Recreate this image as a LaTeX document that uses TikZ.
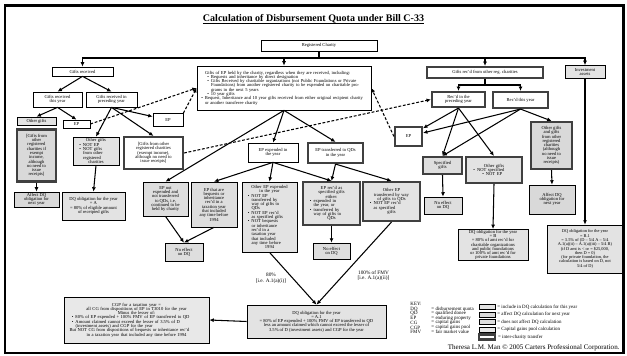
\documentclass[tikz,border=0pt]{standalone}
\usepackage{fontspec}
\setmainfont{Liberation Serif}
\usetikzlibrary{arrows.meta, positioning}
\newcommand\itm{\par\leftskip=3mm\noindent\llap{\textbullet\hspace{1mm}}}

\begin{document}
\begin{tikzpicture}[
  x=0.5mm, y=-0.5mm,
  font=\fontsize{6.5}{6.1}\selectfont,
  wh/.style 2 args={minimum width=#1*0.5mm, minimum height=#2*0.5mm},
  box/.style={draw, line width=1pt, fill=white, align=center, inner sep=1pt},
  incbox/.style={box, fill=gray!22},
  nxtbox/.style={box, fill=gray!30},
  nilbox/.style={box, fill=gray!26},
  cgpbox/.style={box, fill=gray!18},
  xfer/.style={line width=3pt, draw=gray!50!black},
  edge/.style={-{Latex[length=2.2mm, width=2mm]}, line width=1.5pt},
  link/.style={edge, dash pattern=on 4pt off 2.5pt},
  lab/.style={font=\fontsize{7.5}{8}\selectfont, align=center},
  keytxt/.style={font=\fontsize{7}{6.5}\selectfont, inner sep=0.5pt}
]
\useasboundingbox (0,0) rectangle (627,356);
\draw[line width=3.5pt] (5,5.5) rectangle (623.5,353);

\node[font=\fontsize{14.3}{16}\selectfont\bfseries] (title) at (313.5,19) {\underline{Calculation of Disbursement Quota under Bill C-33}};

\node[box, wh={116}{11}] (reg) at (319,45.5) {Registered Charity};
\coordinate (hub) at (319,58);

\node[box, wh={61}{9}] (gr) at (82.5,71.5) {Gifts received};
\node[box, wh={174}{44}, align=left, text width=79mm] (ep) at (284,88) {Gifts of EP held by the charity, regardless when they are received, including:\itm Bequests and inheritance by direct designation\itm Gifts Received by charitable organizations (not Public Foundations or Private Foundations) from another registered charity to be expended on charitable programs in the next 5 years\itm 10 year gifts\itm Bequest, Inheritance and 10 year gifts received from either original recipient charity or another transferee charity};
\node[box, xfer, wh={116}{11}] (orc) at (485,72.5) {Gifts rec'd from other reg. charities};
\node[incbox, wh={40}{13}] (inv) at (585,72) {Investment\\assets};

\node[box, wh={49}{15}] (gty) at (57.5,99.5) {Gifts received\\this year};
\node[box, wh={51}{15}] (gpy) at (111.5,99.5) {Gifts received in\\preceding year};
\node[incbox, wh={39}{8}] (og1) at (36.5,121) {Other gifts};
\node[box, wh={27}{8}] (ep1) at (76.5,124) {EP};
\node[nxtbox, xfer, wh={39}{52}] (xg1) at (36.5,155.5) {[Gifts from\\other\\registered\\charities if\\exempt\\income,\\although\\no need to\\issue\\receipts]};
\node[nxtbox, wh={45}{15}] (ad1) at (36.5,199.5) {Affect DQ\\obligation for\\next year};
\node[incbox, wh={46}{28}, text width=19mm] (og2) at (96,151) {Other gifts\itm NOT EP\itm NOT gifts\\from other\\registered\\charities};
\node[incbox, wh={63}{28}] (dqa) at (93.5,206) {DQ obligation for the year\\= A\\= 80\% of eligible amount\\of receipted gifts};
\node[box, wh={30}{13}] (ep2) at (168,120) {EP};
\node[box, xfer, wh={59}{32}] (xg2) at (153.5,153) {[Gifts from other\\registered charities\\(exempt income),\\although no need to\\issue receipts]};

\node[box, wh={50}{19}] (epx) at (273,152.5) {EP expended in\\the year};
\node[box, xfer, wh={55}{20}] (eptq) at (335.5,153) {EP transferred to QDs\\in the year};
\node[nilbox, wh={45}{34}] (epn) at (165.5,199) {EP not\\expended and\\not transferred\\to QDs, i.e.\\continued to be\\held by charity};
\node[nilbox, wh={46}{45}] (epb) at (214,204.5) {EP that are\\bequests or\\inheritance\\rec'd in a\\taxation year\\that included\\any time before\\1994};
\node[incbox, wh={55}{70}, text width=24mm] (epo) at (269.5,217) {Other EP expended\\in the year\itm NOT EP\\transferred by\\way of gifts to\\QDs\itm NOT EP rec'd\\as specified gifts\itm NOT bequests\\or inheritance\\rec'd in a\\taxation year\\that included\\any time before\\1994};
\node[incbox, xfer, wh={57}{43}, text width=24mm] (eps) at (331.5,203.5) {EP rec'd as\\specified gifts\\either:\itm expended in\\the year, or\itm transferred by\\way of gifts to\\QDs};
\node[incbox, xfer, wh={57}{39}, text width=24mm] (eot) at (391.5,201.5) {Other EP\\transferred by way\\of gifts to QDs\itm NOT EP rec'd\\as specified\\gifts};
\node[nilbox, wh={38}{18}] (ne1) at (184,252) {No effect\\on DQ};
\node[nilbox, wh={37}{16}] (ne2) at (331.5,251) {No effect\\on DQ};
\node[incbox, wh={139}{33}] (dqa1) at (316.5,321.5) {DQ obligation for the year\\= A.1\\= 80\% of EP expended + 100\% FMV of EP transferred to QD\\less an amount claimed which cannot exceed the lesser of\\3.5\% of D (investment assets) and CGP for the year};
\node[cgpbox, wh={145}{46}, text width=67mm] (cgp) at (136.5,320) {CGP for a taxation year =\\all CG from dispositions of EP in T3010 for the year\\Minus the lesser of:\itm 80\% of EP expended + 100\% FMV of EP transferred to QD\itm Amount claimed cannot exceed the lesser of 3.5\% of D\\(investment assets) and CGP for the year\par\leftskip=0mm\noindent But NOT CG from dispositions of bequests or inheritance rec'd\\in a taxation year that included any time before 1994};

\coordinate (ohub) at (485,85);
\node[box, xfer, wh={53}{15}] (rpy) at (458.5,99.5) {Rec'd in the\\preceding year};
\node[box, xfer, wh={55}{16}] (rty) at (520.5,100) {Rec'd this year};
\node[box, xfer, wh={27}{19}] (ep3) at (408.5,136.5) {EP};
\node[nilbox, xfer, wh={39}{17}] (spg) at (442.5,165.5) {Specified\\gifts};
\node[incbox, xfer, wh={56}{26}, text width=23mm] (ogn) at (494,170) {Other gifts\itm NOT specified\itm NOT EP};
\node[nxtbox, xfer, wh={41}{47}] (ogr) at (551.5,145.5) {Other gifts\\and gifts\\from other\\registered\\charities\\(although\\no need to\\issue\\receipts)};
\node[nilbox, wh={38}{17}] (ne3) at (443,205.5) {No effect\\on DQ};
\node[nxtbox, wh={46}{29}] (ad2) at (552,199.5) {Affect DQ\\obligation for\\next year};
\node[incbox, wh={70}{30}] (dqb) at (493,245) {DQ obligation for the year\\= B\\= 80\% of amt rec'd for\\charitable organizations\\and public foundations\\or 100\% of amt rec'd for\\private foundations};
\node[incbox, wh={75}{48}, font=\fontsize{6.2}{6.1}\selectfont] (dqb1) at (585,249) {DQ obligation for the year\\= B.1\\= 3.5\% of (D -- 5/4 A -- 5/4\\A.1(a)(ii) -- A.1(a)(iii) -- 5/4 B)\\(if D amt is < or = \$25,000,\\then D = 0)\\(for private foundation, the\\calculation is based on D, not\\5/4 of D)};

\node[keytxt, anchor=west] (key) at (410,304) {KEY:};
\node[keytxt, anchor=west] (ab1) at (410,309) {DQ};
\node[keytxt, anchor=west] (ab2) at (410,313.6) {QD};
\node[keytxt, anchor=west] (ab3) at (410,318.2) {EP};
\node[keytxt, anchor=west] (ab4) at (410,322.8) {CG};
\node[keytxt, anchor=west] (ab5) at (410,327.4) {CGP};
\node[keytxt, anchor=west] (ab6) at (410,332) {FMV};
\node[keytxt, anchor=west] (df1) at (431,309) {= disbursement quota};
\node[keytxt, anchor=west] (df2) at (431,313.6) {= qualified donee};
\node[keytxt, anchor=west] (df3) at (431,318.2) {= enduring property};
\node[keytxt, anchor=west] (df4) at (431,322.8) {= capital gains};
\node[keytxt, anchor=west] (df5) at (431,327.4) {= capital gains pool};
\node[keytxt, anchor=west] (df6) at (431,332) {= fair market value};
\node[incbox, wh={16}{5}] (k1) at (487,307) {};
\node[nxtbox, wh={16}{5}] (k2) at (487,314.5) {};
\node[nilbox, wh={16}{5}] (k3) at (487,322) {};
\node[cgpbox, wh={16}{5}] (k4) at (487,329.5) {};
\node[box, xfer, wh={16}{5}] (k5) at (487,337) {};
\node[keytxt, right=0.8mm of k1] (kl1) {= include in DQ calculation for this year};
\node[keytxt, right=0.8mm of k2] (kl2) {= affect DQ calculation for next year};
\node[keytxt, right=0.8mm of k3] (kl3) {= does not affect DQ calculation};
\node[keytxt, right=0.8mm of k4] (kl4) {= Capital gains pool calculation};
\node[keytxt, right=0.8mm of k5] (kl5) {= inter-charity transfer};
\node[anchor=east, font=\fontsize{10}{11}\selectfont] (copy) at (622,347.5) {Theresa L.M. Man \textcopyright{} 2005 Carters Professional Corporation.};

\draw[line width=1.5pt] (reg) -- (hub);
\draw[edge] (hub) -| (gr);
\draw[edge] (hub) -| (ep);
\draw[edge] (hub) -| (orc);
\draw[edge] (hub) -| (inv);

\draw[edge] (gr.south) -- (gty.north);
\draw[edge] (gr.south) -- (gpy.north);
\draw[edge] (gty.south) -- (og1.north);
\draw[edge] (gty.south) -- (ep1.north);
\draw[edge] (gpy.south) -- (og2.north);
\draw[edge] (gpy.south) -- (ep2);
\draw[edge] (gpy.south) -- (xg2.north);
\draw[edge] (xg1.south) -- (ad1.north);
\draw[edge] (og2.south) -- (dqa.north);
\draw[link] (ep1.east) -- (ep.west);
\draw[link] (ep2.north east) -- (ep.west);
\draw[link] (xg2.east) -- (rpy.west);
\draw[link] (ep3.west) -- (ep.east);

\draw[edge] (ep.south) -- (epn.north);
\draw[edge] (ep.south) -- (epx.north);
\draw[edge] (ep.south) -- (eptq.north);
\draw[edge] (epx.south) -- (epb.north);
\draw[edge] (epx.south) -- (epo.north);
\draw[edge] (epx.south) -- (eps.north);
\draw[edge] (eptq.south) -- (eps.north);
\draw[edge] (eptq.south) -- (eot.north);
\draw[edge] (epn.south) -- (ne1.north);
\draw[edge] (epb.south) -- (ne1.north);
\draw[edge] (eps.south) -- (ne2.north);
\draw[edge] (epo.south) -- node[lab, left=2mm] {80\%\\{[}i.e. A.1(a)(i){]}} (dqa1.north);
\draw[edge] (eot.south) -- node[lab, pos=0.65, right=6mm] {100\% of FMV\\{[}i.e. A.1(a)(ii){]}} (dqa1.north);
\draw[edge] (dqa1.west) -- (cgp.east);

\draw[line width=1.5pt] (orc) -- (ohub);
\draw[edge] (ohub) -| (rpy);
\draw[edge] (ohub) -| (rty);
\draw[edge] (rpy.south) -- (ep3);
\draw[edge] (rpy.south) -- (spg.north);
\draw[edge] (rpy.south) -- (ogn.north);
\draw[edge] (rty.south) -- (ep3);
\draw[edge] (rty.south) -- (spg.north);
\draw[edge] (rty.south) -- (ogr.north);
\draw[edge] (spg.south) -- (ne3.north);
\draw[edge] (ogn.south) -- (dqb.north);
\draw[edge] (ogr.south) -- (ad2.north);
\draw[edge] (inv.south) -- (dqb1.north);
\end{tikzpicture}
\end{document}
